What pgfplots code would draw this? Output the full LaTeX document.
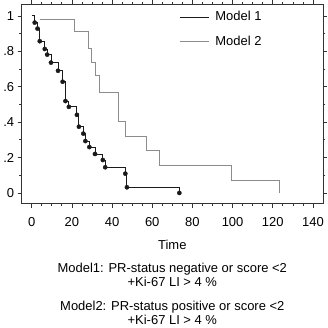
\documentclass[border=0pt]{standalone}
\usepackage{fontspec}
\setmainfont{Liberation Sans}
\usepackage{pgfplots}
\pgfplotsset{compat=1.18}
\definecolor{mone}{HTML}{1A1A1A}
\definecolor{mtwo}{HTML}{8C8C8C}
\definecolor{axc}{HTML}{333333}
\begin{document}
\begin{tikzpicture}[font=\fontsize{13}{15}\selectfont]
\begin{axis}[
  name=ax,
  scale only axis,
  width=301bp, height=199bp,
  xmin=-5, xmax=145,
  ymin=-0.06, ymax=1.065,
  xtick={0,20,...,140},
  minor x tick num=3,
  ytick={0,0.2,0.4,0.6,0.8,1},
  yticklabels={0,.2,.4,.6,.8,1},
  minor y tick num=1,
  tick align=outside,
  major tick length=4bp,
  minor tick length=2.5bp,
  axis line style={axc, line width=0.8bp},
  every tick/.style={axc, line width=0.7bp},
  /pgf/number format/assume math mode=true,
  ticklabel style={font=\fontsize{13}{15}\selectfont},
  xticklabel style={yshift=-6bp},
  xlabel={Time},
  xlabel style={font=\fontsize{13}{15}\selectfont, yshift=-7bp},
  legend style={draw=none, fill=none, at={(axis description cs:0.513,0.985)}, anchor=north west,
    row sep=10bp, font=\fontsize{13}{15}\selectfont, nodes={inner xsep=6bp}},
  legend cell align=left,
  legend image code/.code={\draw[#1] (0bp,0bp) -- (29bp,0bp);},
]
\addplot[const plot, mone, line width=0.9bp] coordinates {
(0,1.0) (1.5,0.962) (2.9,0.928) (4.0,0.857) (6.5,0.813) (7.7,0.781) (9.6,0.736)
(13.1,0.69) (15.4,0.628) (16.8,0.519) (18.5,0.486) (22.5,0.441) (23.5,0.374)
(25.7,0.335) (26.7,0.293) (28.7,0.259) (31.5,0.22) (35.4,0.186) (36.6,0.145)
(46.6,0.109) (47.4,0.032) (73.5,0.0)};
\addlegendentry{Model 1}
\addplot[const plot, mtwo, line width=0.9bp] coordinates {
(4,0.98) (21.5,0.91) (28.2,0.815) (29.7,0.737) (31.7,0.662) (33.5,0.57)
(43.4,0.406) (46.6,0.318) (57.2,0.24) (63.5,0.158) (99.5,0.068) (123.5,0.0)};
\addlegendentry{Model 2}
\addplot[only marks, mark=*, mark size=2.1bp, mone, forget plot] coordinates {
(1.5,0.962) (2.9,0.928) (4.0,0.857) (6.5,0.813) (7.7,0.781) (9.6,0.736)
(13.1,0.69) (15.4,0.628) (16.8,0.519) (18.5,0.486) (22.5,0.441) (23.5,0.374)
(25.7,0.335) (26.7,0.293) (28.7,0.259) (31.5,0.22) (35.4,0.186) (36.6,0.145)
(46.6,0.109) (47.4,0.032) (73.5,0.0)};
\end{axis}
\node[align=center, yshift=-71bp, font=\fontsize{13}{14.5}\selectfont] at (ax.south) {Model1: PR-status negative or score <2\\+Ki-67 LI > 4 \%};
\node[align=center, yshift=-109bp, font=\fontsize{13}{14.5}\selectfont] at (ax.south) {Model2: PR-status positive or score <2\\+Ki-67 LI > 4 \%};
\end{tikzpicture}
\end{document}
